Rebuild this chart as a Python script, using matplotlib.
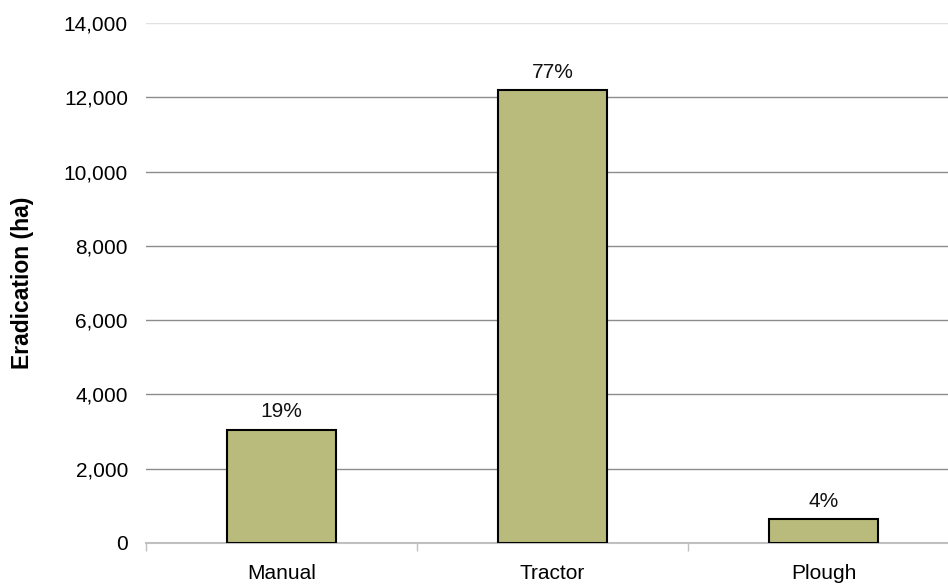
import matplotlib.pyplot as plt
from matplotlib.ticker import FuncFormatter, FixedLocator

plt.rcParams['font.family'] = ['Liberation Sans', 'DejaVu Sans']

# Eradication area by method
methods = ['Manual', 'Tractor', 'Plough']
area_ha = [3050, 12200, 650]
share_labels = ['19%', '77%', '4%']

fig = plt.figure(figsize=(9.48, 5.84), dpi=100)
ax = fig.add_axes([146 / 948, 1 - 543 / 584, 813 / 948, 520 / 584])

x = list(range(len(methods)))
ax.bar(x, area_ha, width=0.4, color='#b8bb7c', edgecolor='black', linewidth=1.5, zorder=3)

for xi, v, lab in zip(x, area_ha, share_labels):
    ax.annotate(lab, (xi, v), xytext=(0, 6), textcoords='offset points',
                ha='center', va='bottom', fontsize=15, color='#111111')

ax.set_xlim(-0.5, 2.5)
ax.set_ylim(0, 14000)
ax.set_yticks(range(0, 14001, 2000))
ax.yaxis.set_major_formatter(FuncFormatter(lambda v, p: f'{int(v):,}'))
ax.set_xticks(x)
ax.set_xticklabels(methods)
ax.xaxis.set_minor_locator(FixedLocator([-0.5, 0.5, 1.5, 2.5]))

ax.tick_params(axis='x', which='major', length=0, pad=15, labelsize=15)
ax.tick_params(axis='x', which='minor', length=6, width=1, color='#c0c0c0', direction='out')
ax.tick_params(axis='y', length=0, pad=13, labelsize=15)

ax.yaxis.grid(True, color='#8c8c8c', linewidth=1, zorder=0)
ax.yaxis.get_gridlines()[-1].set_color('#e0e0e0')
ax.set_axisbelow(True)

for s in ['top', 'right', 'left']:
    ax.spines[s].set_visible(False)
ax.spines['bottom'].set_color('#c0c0c0')
ax.spines['bottom'].set_linewidth(1.5)

ax.set_ylabel('Eradication (ha)', fontsize=16.5, fontweight='bold')
ax.yaxis.set_label_coords(-112 / 813, 0.5)

fig.savefig('out.png', dpi=100)
